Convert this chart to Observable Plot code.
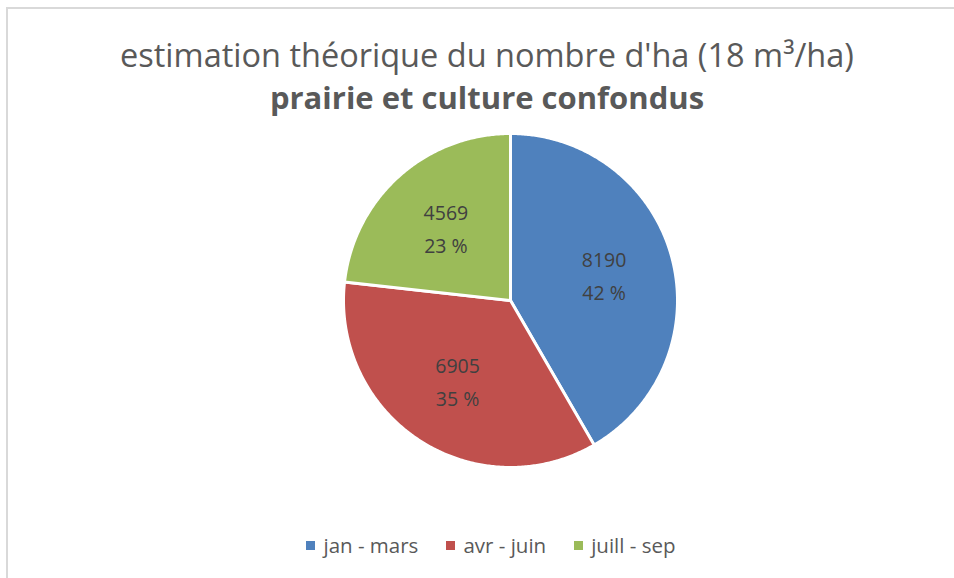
<!DOCTYPE html>
<html><head><meta charset="utf-8">
<script src="https://cdn.jsdelivr.net/npm/d3@7"></script>
<script src="https://cdn.jsdelivr.net/npm/@observablehq/plot@0.6"></script>
<style>
body{margin:0;background:#fff;font-family:"Open Sans",sans-serif;}
#wrap{position:relative;width:954px;height:578px;overflow:hidden;background:#fff;}
#frame{position:absolute;left:6px;top:7px;width:1000px;height:1000px;border:2px solid #d9d9d9;box-sizing:border-box;pointer-events:none;}
#head{position:relative;height:120px;}
.t{position:absolute;left:20px;right:0;text-align:center;color:#595959;white-space:nowrap;}
#t1{top:35px;font-size:32.5px;line-height:40px;font-weight:400;}
#t2{top:77px;font-size:31px;line-height:40px;font-weight:700;}
#legend{display:flex;justify-content:center;align-items:center;height:50px;padding-left:28px;color:#595959;font-size:20.5px;}
.item{display:flex;align-items:center;margin:0 14px;}
.sw{width:9px;height:9px;margin-right:8px;}
</style></head>
<body>
<div id="wrap">
  <div id="head">
    <div class="t" id="t1">estimation théorique du nombre d'ha (18 m³/ha)</div>
    <div class="t" id="t2">prairie et culture confondus</div>
  </div>
  <div id="chart"></div>
  <div id="legend"></div>
  <div id="frame"></div>
</div>
<script>
const categories = ["jan - mars", "avr - juin", "juill - sep"];
const values = [8190, 6905, 4569];
const colors = ["#4F81BD", "#C0504D", "#9BBB59"];

const total = d3.sum(values);
const rows = categories.map((c, i) => ({category: c, value: values[i]}));
const arcs = d3.pie().sort(null).value(d => d.value)(rows);

function slicePolygon(a0, a1) {
  const n = Math.max(2, Math.ceil((a1 - a0) / (Math.PI / 360)));
  const pts = [[0, 0]];
  for (let k = 0; k <= n; k++) {
    const a = a0 + (a1 - a0) * k / n;
    pts.push([Math.sin(a), Math.cos(a)]);
  }
  pts.push([0, 0]);
  return pts;
}

const features = arcs.map(a => ({
  type: "Feature",
  properties: {category: a.data.category},
  geometry: {type: "Polygon", coordinates: [slicePolygon(a.startAngle, a.endAngle)]}
}));

const labels = arcs.map(a => {
  const m = (a.startAngle + a.endAngle) / 2;
  return {
    x: 0.58 * Math.sin(m),
    y: 0.58 * Math.cos(m),
    value: String(a.data.value),
    pct: Math.round(a.data.value / total * 100) + " %"
  };
});

const chart = Plot.plot({
  width: 954,
  height: 400,
  marginLeft: 343, marginRight: 277, marginTop: 13, marginBottom: 53,
  style: {fontFamily: "'Open Sans', sans-serif", background: "transparent"},
  projection: {type: "reflect-y", domain: {type: "FeatureCollection", features}},
  color: {domain: categories, range: colors},
  marks: [
    Plot.geo(features, {fill: d => d.properties.category, stroke: "white", strokeWidth: 3, strokeLinejoin: "round"}),
    Plot.text(labels, {x: "x", y: "y", text: "value", dy: -15, fontSize: 19.5, fill: "#404040"}),
    Plot.text(labels, {x: "x", y: "y", text: "pct", dy: 18, fontSize: 19.5, fill: "#404040"})
  ]
});
document.getElementById("chart").appendChild(chart);

const legend = document.getElementById("legend");
categories.forEach((c, i) => {
  const it = document.createElement("div");
  it.className = "item";
  const sw = document.createElement("div");
  sw.className = "sw";
  sw.style.background = colors[i];
  const tx = document.createElement("span");
  tx.textContent = c;
  it.appendChild(sw); it.appendChild(tx);
  legend.appendChild(it);
});
</script>
</body></html>
